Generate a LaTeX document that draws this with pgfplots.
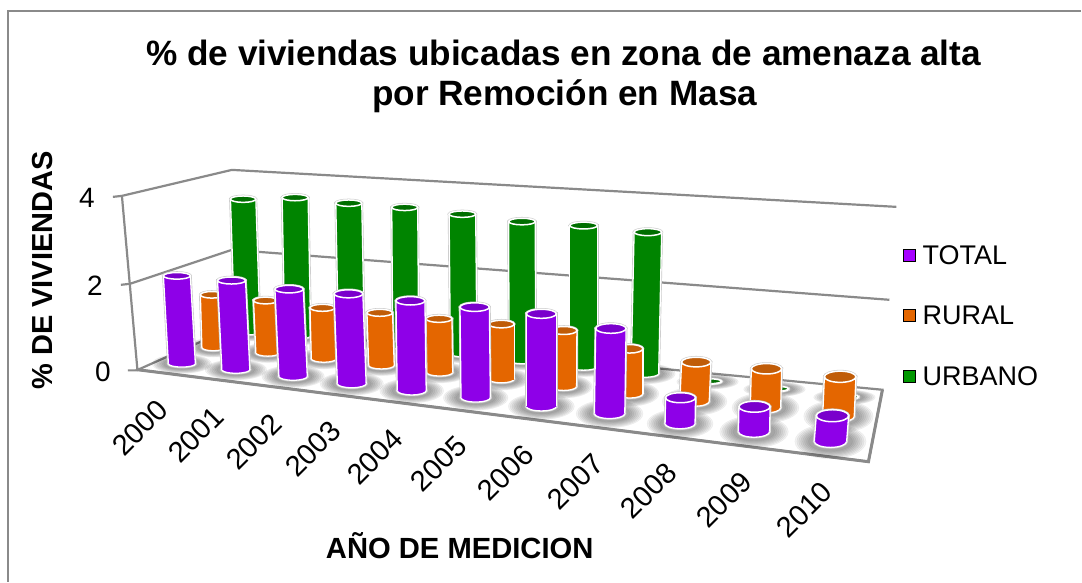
\documentclass[border=0pt]{standalone}
\usepackage{fontspec}
\setmainfont{Liberation Sans}
\usepackage{pgfplots}
\pgfplotsset{compat=1.18}
\definecolor{gridg}{HTML}{8A8A8A}
\definecolor{pA}{HTML}{8E00E8}\definecolor{pB}{HTML}{A600FF}\definecolor{pC}{HTML}{7A00CC}
\definecolor{oA}{HTML}{E46600}\definecolor{oB}{HTML}{FF7C00}\definecolor{oC}{HTML}{C05C08}
\definecolor{gA}{HTML}{008400}\definecolor{gB}{HTML}{00A800}\definecolor{gC}{HTML}{006E00}
\definecolor{halo}{HTML}{C8C8C8}
\newcommand{\fs}[1]{\fontsize{#1}{#1}\selectfont}
% floor shadow of one cylinder: concentric translucent ellipses
\newcommand{\shadowE}[4]{%
  \addplot[only marks,mark=*,mark size=1pt,mark options={draw=none,fill=black,opacity=.05,xscale=#3,yscale=#4}] coordinates {(#1,#2)};}
\newcommand{\shadowC}[7]{%
  \shadowE{#3}{#4}{2.20*#5}{2.90*#6}\shadowE{#3}{#4}{2.08*#5}{2.72*#6}%
  \shadowE{#3}{#4}{1.96*#5}{2.54*#6}\shadowE{#3}{#4}{1.84*#5}{2.36*#6}%
  \shadowE{#3}{#4}{1.72*#5}{2.18*#6}\shadowE{#3}{#4}{1.60*#5}{2.00*#6}%
  \shadowE{#3}{#4}{1.48*#5}{1.82*#6}\shadowE{#3}{#4}{1.36*#5}{1.64*#6}}
% cylinder: xtop ytop xbot ybot halfwidth ellipse-halfheight colourprefix
\newcommand{\cylC}[7]{%
  \pgfmathsetmacro\tl{#1-#5}\pgfmathsetmacro\tr{#1+#5}%
  \pgfmathsetmacro\bl{#3-#5}\pgfmathsetmacro\br{#3+#5}%
  \addplot[draw=halo,line width=2.6pt,fill=halo] coordinates {(\tl,#2)(\tr,#2)(\br,#4)(\bl,#4)} --cycle;
  \addplot[only marks,mark=*,mark size=1pt,mark options={draw=halo,fill=halo,line width=2.6pt,xscale=#5,yscale=#6}] coordinates {(#1,#2)(#3,#4)};
  \addplot[only marks,mark=*,mark size=1pt,mark options={draw=white,fill=#7A,line width=1.3pt,xscale=#5,yscale=#6}] coordinates {(#3,#4)};
  \addplot[draw=none,left color=#7A,middle color=#7B,right color=#7A] coordinates {(\tl,#2)(\tr,#2)(\br,#4)(\bl,#4)} --cycle;
  \addplot[white,line width=1.3pt] coordinates {(\tl,#2)(\bl,#4)};
  \addplot[white,line width=1.3pt] coordinates {(\tr,#2)(\br,#4)};
  \addplot[only marks,mark=*,mark size=1pt,mark options={draw=white,fill=#7C,line width=1.5pt,xscale=#5,yscale=#6}] coordinates {(#1,#2)};
}
% pixel readings: xtop, ytop, xbottom, ybottom, half width, half height of the ellipse
\newcommand{\allgreen}{%
  \C{243.3}{199.3}{247.7}{332}{12.7}{3.2}{g}
  \C{295.3}{197.7}{298}{336}{13}{3.2}{g}
  \C{349}{203.3}{351.7}{342}{13}{3.2}{g}
  \C{405}{207.5}{406}{347}{13}{3.2}{g}
  \C{462.7}{214.3}{464}{354}{13.3}{3.2}{g}
  \C{522.3}{221.7}{522.7}{360.7}{13.3}{3.3}{g}
  \C{584}{225.7}{584}{367}{13.8}{3.4}{g}
  \C{648.3}{232.3}{645.3}{374}{13.8}{3.5}{g}
  \C{708}{381.5}{708}{382}{14}{2.6}{g}
  \C{775}{389}{775}{389.5}{14}{2.6}{g}
  \C{845}{397}{845}{397.5}{14}{2.6}{g}
}
\newcommand{\allorange}{%
  \C{212}{295}{213.5}{347.7}{11.5}{3.3}{o}
  \C{265.7}{300.7}{268}{353}{12}{3.4}{o}
  \C{322.7}{308}{324}{359}{12.5}{3.5}{o}
  \C{380}{313}{381.7}{365.7}{12.8}{3.5}{o}
  \C{439.3}{319}{440}{372.7}{13}{3.6}{o}
  \C{501.7}{324.3}{501.7}{379.3}{12.8}{3.8}{o}
  \C{564.3}{330.7}{564}{386.7}{13}{4}{o}
  \C{630}{349}{630}{394}{13.3}{4.3}{o}
  \C{696.7}{362.3}{695}{401.7}{14.7}{4.8}{o}
  \C{767}{369}{766}{408}{15.2}{5.2}{o}
  \C{840.7}{377}{839}{416.7}{15.8}{5.6}{o}
}
\newcommand{\allpurple}{%
  \C{177}{276}{182}{364}{13.5}{3.3}{p}
  \C{231.7}{280.7}{236}{370}{14}{3.5}{p}
  \C{289.3}{289.3}{293.3}{376.7}{14.2}{3.8}{p}
  \C{348.7}{294}{352}{384}{14.4}{4}{p}
  \C{410.7}{301}{412}{391}{14.5}{4.2}{p}
  \C{475}{307.3}{476}{398}{14.7}{4.3}{p}
  \C{541.7}{314}{541.7}{406.7}{15}{4.5}{p}
  \C{611.3}{328.7}{610}{414}{15.2}{4.8}{p}
  \C{681}{398}{680.5}{424}{15}{5}{p}
  \C{755}{407}{754.5}{432}{15.6}{5.5}{p}
  \C{833}{416}{831}{441.7}{16.2}{6}{p}
}
\begin{document}
\begin{tikzpicture}
\begin{axis}[
  scale only axis, width=1082pt, height=582pt,
  xmin=0, xmax=1082, ymin=0, ymax=582, y dir=reverse,
  hide axis, clip=false, clip mode=individual, anchor=south west, at={(0,0)},
]
\path (axis cs:0,0) rectangle (axis cs:1082,582);
% frame
\addplot[color=gridg,line width=1.4pt] coordinates {(8,582)(8,11)(1082,11)};
% walls and gridlines
\addplot[color=gridg,line width=2.2pt] coordinates {(113,197)(122,196)(232,170)(897,207)};
\addplot[color=gridg,line width=2.2pt] coordinates {(121,285)(130,284)(232,250)(890,300)};
\addplot[color=gridg,line width=2.2pt] coordinates {(122,196)(137.5,370)};
% floor
\addplot[fill=white,draw=gridg,line width=2.2pt] coordinates {(138,370)(232,328)(883,390)(869,462)} --cycle;
\addplot[color=gridg,line width=3pt] coordinates {(138,370)(869,462)(883,390)};
\addplot[color=gridg,line width=2pt] coordinates {(128,370.7)(138,370.5)};
% shadows
\let\C\shadowC
\allgreen\allorange\allpurple
% cylinders
\let\C\cylC
\allgreen\allorange\allpurple
% legend keys
\addplot[only marks,mark=square*,mark size=6pt,mark options={draw=none,fill=pB}] coordinates {(910,255)};
\addplot[only marks,mark=square*,mark size=6pt,mark options={draw=none,fill=oA}] coordinates {(910,315.5)};
\addplot[only marks,mark=square*,mark size=6pt,mark options={draw=none,fill=gB!90!black}] coordinates {(910,376.7)};
% text
\node[anchor=base west,inner sep=0pt] at (axis cs:923,264.7) {\fs{27}TOTAL};
\node[anchor=base west,inner sep=0pt] at (axis cs:923,325) {\fs{27}RURAL};
\node[anchor=base west,inner sep=0pt] at (axis cs:923,386) {\fs{27}URBANO};
\node[anchor=base,inner sep=0pt] at (axis cs:564,66) {\fs{35.2}\bfseries \% de viviendas ubicadas en zona de amenaza alta};
\node[anchor=base,inner sep=0pt] at (axis cs:565,106) {\fs{35.2}\bfseries por Remoción en Masa};
\node[anchor=base,inner sep=0pt,rotate=90] at (axis cs:53,270.5) {\fs{29}\bfseries \% DE VIVIENDAS};
\node[anchor=base,inner sep=0pt] at (axis cs:460,559) {\fs{29.2}\bfseries AÑO DE MEDICION};
\node[inner sep=0pt] at (axis cs:87,198) {\fs{28}4};
\node[inner sep=0pt] at (axis cs:95,286) {\fs{28}2};
\node[inner sep=0pt] at (axis cs:103,372) {\fs{28}0};
\node[inner sep=0pt,rotate=45] at (axis cs:140,428) {\fs{29}2000};
\node[inner sep=0pt,rotate=45] at (axis cs:196,435) {\fs{29}2001};
\node[inner sep=0pt,rotate=45] at (axis cs:254,442) {\fs{29}2002};
\node[inner sep=0pt,rotate=45] at (axis cs:313,449) {\fs{29}2003};
\node[inner sep=0pt,rotate=45] at (axis cs:375,457) {\fs{29}2004};
\node[inner sep=0pt,rotate=45] at (axis cs:439,464) {\fs{29}2005};
\node[inner sep=0pt,rotate=45] at (axis cs:506,473) {\fs{29}2006};
\node[inner sep=0pt,rotate=45] at (axis cs:576,482) {\fs{29}2007};
\node[inner sep=0pt,rotate=45] at (axis cs:649,491) {\fs{29}2008};
\node[inner sep=0pt,rotate=45] at (axis cs:724.5,500) {\fs{29}2009};
\node[inner sep=0pt,rotate=45] at (axis cs:805,510) {\fs{29}2010};
\end{axis}
\end{tikzpicture}
\end{document}
